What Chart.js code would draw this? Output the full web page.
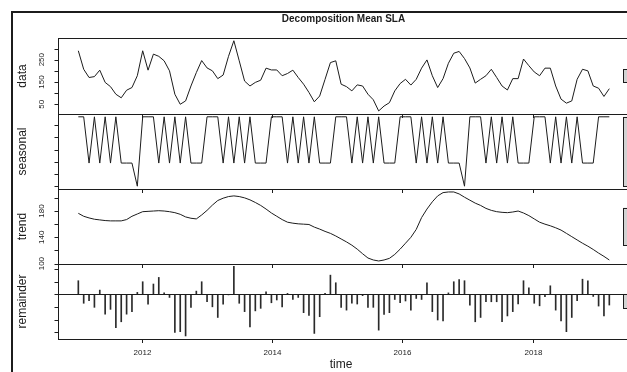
<!DOCTYPE html>
<html>
<head>
<meta charset="utf-8">
<script src="https://cdn.jsdelivr.net/npm/chart.js@4.4.1/dist/chart.umd.min.js"></script>
<style>
  html, body { margin:0; padding:0; background:#fff; width:627px; height:372px; overflow:hidden; }
  canvas { position:absolute; left:0; top:0; }
</style>
</head>
<body>
<canvas id="c-data" width="640" height="372"></canvas>
<canvas id="c-seasonal" width="640" height="372"></canvas>
<canvas id="c-trend" width="640" height="372"></canvas>
<canvas id="c-remainder" width="640" height="372"></canvas>
<script>
'use strict';

// ── Series (one value per month) ──────────────────────────────────────────────
var tsStart = 2011.027, tsFreq = 12.146;

var dataSeries = [
  290,207,170,174,203,148,129, 95, 79,113,125,178,
  290,203,275,265,245,200, 95, 50, 65,132,192,246,
  213,200,165,181,265,335,245,154,132,148,158,212,
  204,204,178,188,203,170,140,103, 61, 87,162,237,
  245,140,129,110,137,132, 95, 70, 20, 42, 57,110,
  143,162,136,162,212,249,178,125,165,234,279,287,
  255,213,145,162,178,207,170,132,114,165,165,253,
  223,195,178,212,212,132, 73, 55, 65,162,207,200,
  132,122, 85,120
];
var seasonalSeries = [
  57,57,19,57,19,57,19,57,19,19,19, 0,
  57,57,57,19,57,19,57,19,57,19,19,19,
  57,57,57,19,57,19,57,19,57,19,19,19,
  57,57,57,19,57,19,57,19,57,19,19,19,
  57,57,57,19,57,19,57,19,57,19,19,19,
  57,57,57,19,57,19,57,19,57,19,19,19,
   0,
  57,57,57,19,57,19,57,19,57,19,19,19,
  57,57,57,19,57,19,57,19,57,19,19,19,
  57,57,57
];
var trendSeries = [
  176.5,172,169.5,167.5,166.5,165.5,165,165,165,167,172,175.5,
  179,179.5,180,180.5,180,179,177.5,175,171,169,168,174,
  181,189,196,199.5,202,203,202,200,197,193,188.5,183,
  177,172,167,163,161.5,160.5,160,159.5,155.5,152.5,149,146,
  142,137.5,133,128,122,115,108.5,105.5,104,105.5,108,114,
  122,131,140,152,170,183,194,203,208,209,209,206,
  201,196.5,192,188.5,184,181,179,178,177.5,178.5,180,177,
  173,168,163,160,157.5,154.5,151,146,141,136,131,126.5,
  121.5,116,111,105.5
];
var remainderSeries = [
   54, -35, -25, -51,  17, -78, -59,-131,-108, -78, -68,   8,
   50, -39,  41,  67,   6, -12,-150,-147,-164, -51,  13,  50,
  -29, -49, -91, -39,  -2, 111, -35, -68,-128, -65, -55,  10,
  -33, -22, -49,   4, -20, -12, -72, -83,-154, -88,   4,  76,
   46, -51, -62, -35, -38,  -5, -51, -51,-141, -79, -72, -20,
  -33, -26, -62, -16, -20,  46, -68,-101,-105,   6,  50,  59,
   54, -42,-108, -91, -29, -29, -29,-108, -85, -68, -38,  54,
   26, -35, -45,  -9,  34, -62,-105,-147, -91, -25,  60,  54,
   -8, -46, -85, -42
];

// ── Axis ticks ────────────────────────────────────────────────────────────────
var xTicks         = [2012, 2014, 2016, 2018];
var dataTicks      = [50, 100, 150, 200, 250, 300];
var dataLabels     = [50, 150, 250];
var seasonalTicks  = [0, 10, 20, 30, 40, 50];
var trendTicks     = [100, 120, 140, 160, 180, 200];
var trendLabels    = [100, 140, 180];
var remainderTicks = [-150, -100, -50, 0, 50, 100];

var FONT = '"Liberation Sans", Arial, sans-serif';
var INK  = '#1c1c1c';

var times = dataSeries.map(function(v, i) { return tsStart + i / tsFreq; });

function span(a) { return Math.max.apply(null, a) - Math.min.apply(null, a); }
// plot.stl range bars all share the smallest component range
var barSize = Math.min(span(dataSeries), span(seasonalSeries), span(trendSeries), span(remainderSeries));

var panels = [
  { id:'c-data',      top:38,  bottom:114, name:'data',      values:dataSeries,      min:6.3,   max:347.3, ticks:dataTicks,      labels:dataLabels,  first:true },
  { id:'c-seasonal',  top:114, bottom:189, name:'seasonal',  values:seasonalSeries,  min:-2.3,  max:59.3,  ticks:seasonalTicks,  labels:[] },
  { id:'c-trend',     top:189, bottom:264, name:'trend',     values:trendSeries,     min:99.4,  max:213.5, ticks:trendTicks,     labels:trendLabels },
  { id:'c-remainder', top:264, bottom:339, name:'remainder', values:remainderSeries, min:-176,  max:120,   ticks:remainderTicks, labels:[], bars:true, last:true }
];

// ── Panel decorations: box, ticks, labels, range bar ─────────────────────────
var stlPlugin = {
  id: 'stl',
  afterDraw: function(chart) {
    var p = chart.options.plugins.stl;
    var ctx = chart.ctx, a = chart.chartArea, xs = chart.scales.x, ys = chart.scales.y;
    ctx.save();
    ctx.strokeStyle = INK; ctx.fillStyle = INK; ctx.lineWidth = 1;

    if (p.bars) {
      var zy = Math.round(ys.getPixelForValue(0)) + 0.5;
      ctx.beginPath(); ctx.moveTo(a.left, zy); ctx.lineTo(a.right, zy); ctx.stroke();
    }

    ctx.strokeRect(Math.round(a.left) + 0.5, Math.round(a.top) + 0.5, Math.round(a.right - a.left), Math.round(a.bottom - a.top));

    // y ticks both sides
    p.ticks.forEach(function(v) {
      var y = Math.round(ys.getPixelForValue(v)) + 0.5;
      ctx.beginPath();
      ctx.moveTo(a.left, y); ctx.lineTo(a.left - 3.5, y);
      ctx.moveTo(a.right, y); ctx.lineTo(a.right + 3.5, y);
      ctx.stroke();
    });
    ctx.font = '8px ' + FONT;
    ctx.textAlign = 'center'; ctx.textBaseline = 'middle';
    p.labels.forEach(function(v) {
      ctx.save();
      ctx.translate(42, ys.getPixelForValue(v));
      ctx.rotate(-Math.PI / 2);
      ctx.fillText(String(v), 0, 0);
      ctx.restore();
    });

    // x ticks under every panel
    xTicks.forEach(function(t) {
      var x = Math.round(xs.getPixelForValue(t)) + 0.5;
      ctx.beginPath(); ctx.moveTo(x, a.bottom); ctx.lineTo(x, a.bottom + 4); ctx.stroke();
      if (p.last) {
        ctx.font = '8px ' + FONT;
        ctx.fillText(String(t), x, 353);
      }
    });

    // panel name
    ctx.save();
    ctx.font = '12px ' + FONT;
    ctx.translate(23, (a.top + a.bottom) / 2);
    ctx.rotate(-Math.PI / 2);
    ctx.fillText(p.name, 0, 0);
    ctx.restore();

    // range bar
    var dx = (xs.max - xs.min) / 64;
    var mid = (Math.max.apply(null, p.values) + Math.min.apply(null, p.values)) / 2;
    var bx1 = xs.getPixelForValue(xs.max - dx), bx2 = xs.getPixelForValue(xs.max - 0.4 * dx);
    var by1 = ys.getPixelForValue(mid + barSize / 2), by2 = ys.getPixelForValue(mid - barSize / 2);
    ctx.fillStyle = '#d3d3d3';
    ctx.fillRect(bx1, by1, bx2 - bx1, by2 - by1);
    ctx.strokeRect(Math.round(bx1) + 0.5, Math.round(by1) + 0.5, Math.round(bx2 - bx1), Math.round(by2 - by1));
    ctx.fillStyle = INK;

    if (p.first) {
      ctx.fillRect(11, 11, 2, 372);
      ctx.fillRect(11, 11, 640, 2);
      ctx.font = 'bold 10px ' + FONT;
      ctx.fillText('Decomposition Mean SLA', (a.left + a.right) / 2 - 1.5, 19.5);
    }
    if (p.last) {
      ctx.font = '12px ' + FONT;
      ctx.fillText('time', 341, 365);
    }
    ctx.restore();
  }
};

panels.forEach(function(p) {
  var pts = p.values.map(function(v, i) { return { x: times[i], y: v }; });
  var ds = p.bars
    ? { type:'bar', data:pts, backgroundColor:'#2a2a2a', borderWidth:0, barThickness:1 }
    : { type:'line', data:pts, borderColor:INK, borderWidth:1, pointRadius:0, tension:0, fill:false, borderJoinStyle:'round' };
  new Chart(document.getElementById(p.id), {
    type: p.bars ? 'bar' : 'line',
    data: { datasets: [ds] },
    options: {
      responsive:false, animation:false, events:[],
      layout: { padding: { left:58, right:8, top:p.top, bottom:372 - p.bottom } },
      plugins: {
        legend:{ display:false }, tooltip:{ enabled:false },
        stl: { name:p.name, values:p.values, ticks:p.ticks, labels:p.labels, bars:!!p.bars, first:!!p.first, last:!!p.last }
      },
      scales: {
        x: { type:'linear', display:false, min:2010.715, max:2019.526, offset:false },
        y: { type:'linear', display:false, min:p.min, max:p.max }
      }
    },
    plugins: [stlPlugin]
  });
});
</script>
</body>
</html>
